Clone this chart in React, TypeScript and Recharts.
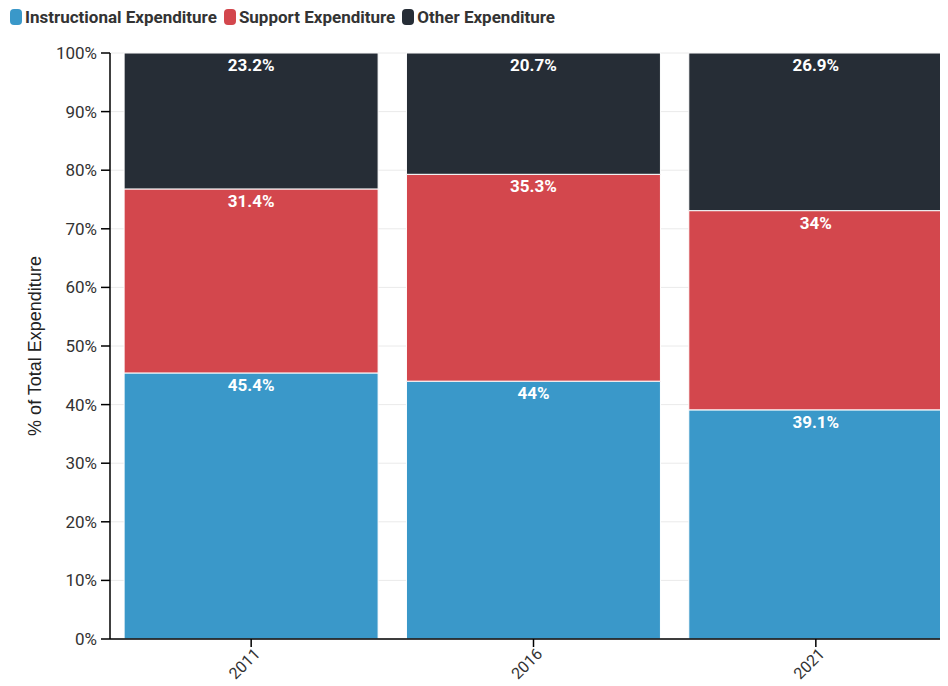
import React from 'react';
import { BarChart, Bar, XAxis, YAxis, CartesianGrid, LabelList } from 'recharts';

const years = ['2011', '2016', '2021'];
const instructional = [45.4, 44, 39.1];
const support = [31.4, 35.3, 34];
const other = [23.2, 20.7, 26.9];
const yTicks = [0, 10, 20, 30, 40, 50, 60, 70, 80, 90, 100];

const seriesInfo = [
  { key: 'instructional', name: 'Instructional Expenditure', color: '#3A98C9' },
  { key: 'support', name: 'Support Expenditure', color: '#D3474D' },
  { key: 'other', name: 'Other Expenditure', color: '#262D36' },
];

const data = years.map((y, i) => ({
  year: y,
  instructional: instructional[i],
  support: support[i],
  other: other[i],
}));

const FONT = 'Roboto, "Noto Sans", sans-serif';
const TITLE_FONT = '"Liberation Sans", Arial, sans-serif';

const SegLabel = (props: any) => {
  const { x, y, width, value } = props;
  return (
    <text
      x={x + width / 2}
      y={y + 12}
      textAnchor="middle"
      dominantBaseline="central"
      fill="#fff"
      fontFamily={FONT}
      fontWeight={700}
      fontSize={17}
    >
      {value}%
    </text>
  );
};

const XTick = (props: any) => {
  const { x, y, payload } = props;
  const ex = x + 6;
  const ey = y + 2;
  return (
    <text
      x={ex}
      y={ey}
      transform={`rotate(-45 ${ex} ${ey})`}
      textAnchor="end"
      dominantBaseline="central"
      fill="#333"
      fontFamily={FONT}
      fontSize={16}
    >
      {payload.value}
    </text>
  );
};

export default function App() {
  return (
    <div style={{ width: 940, height: 678, overflow: 'hidden', position: 'relative', fontFamily: FONT }}>
      <div style={{ position: 'absolute', left: 2, top: 0, display: 'flex', alignItems: 'center', height: 18 }}>
        {seriesInfo.map((s) => (
          <div key={s.key} style={{ display: 'flex', alignItems: 'center', marginRight: 7 }}>
            <span style={{ display: 'inline-block', width: 12, height: 16, borderRadius: 4, background: s.color, marginRight: 3 }} />
            <span style={{ fontSize: 17, lineHeight: '18px', fontWeight: 700, color: '#333', whiteSpace: 'nowrap' }}>{s.name}</span>
          </div>
        ))}
      </div>
      <BarChart
        width={950}
        height={678}
        data={data}
        margin={{ top: 45, right: 1, bottom: 0, left: 0 }}
        barCategoryGap="5%"
      >
        <CartesianGrid horizontal vertical={false} stroke="#eaeaea" />
        <YAxis
          type="number"
          domain={[0, 100]}
          ticks={yTicks}
          width={102}
          tickFormatter={(v: number) => `${v}%`}
          tick={{ fill: '#333', fontSize: 17, fontFamily: FONT }}
          axisLine={{ stroke: '#000', strokeWidth: 1.5 }}
          tickLine={{ stroke: '#000', strokeWidth: 1.5 }}
          tickSize={9}
          tickMargin={4}
          label={{
            value: '% of Total Expenditure',
            angle: -90,
            position: 'center',
            dx: -24,
            fill: '#222',
            fontSize: 18,
            fontFamily: TITLE_FONT,
          }}
        />
        <XAxis
          dataKey="year"
          height={47}
          tick={<XTick />}
          interval={0}
          axisLine={{ stroke: '#000', strokeWidth: 1.5 }}
          tickLine={{ stroke: '#000', strokeWidth: 1.5 }}
          tickSize={8}
        />
        {seriesInfo.map((s) => (
          <Bar
            key={s.key}
            dataKey={s.key}
            name={s.name}
            stackId="a"
            fill={s.color}
            stroke="#fff"
            strokeWidth={1}
            isAnimationActive={false}
          >
            <LabelList dataKey={s.key} content={<SegLabel />} />
          </Bar>
        ))}
      </BarChart>
    </div>
  );
}
